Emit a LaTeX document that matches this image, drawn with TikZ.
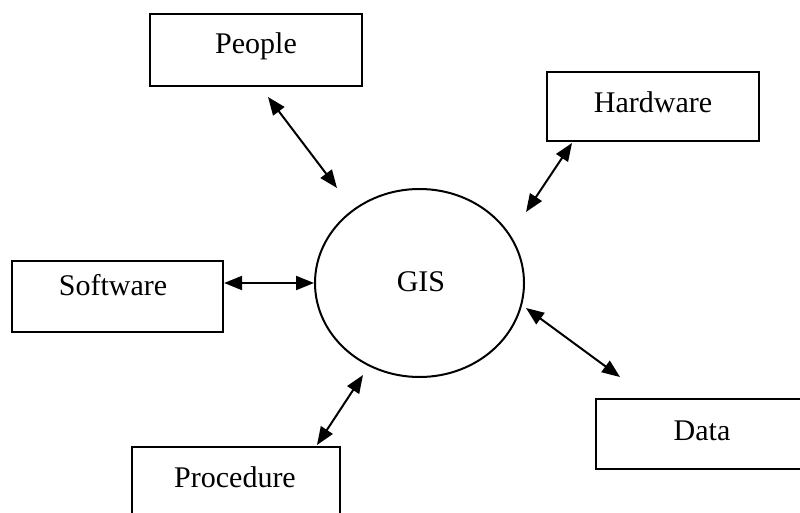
\documentclass[tikz,border=0pt]{standalone}
\usepackage{fontspec}
\setmainfont{Liberation Serif}
\usetikzlibrary{arrows.meta,shapes.geometric}
\begin{document}
\begin{tikzpicture}[x=1pt,y=-1pt,
  box/.style={draw=black,line width=2.2pt,rectangle,inner sep=0pt},
  lbl/.style={anchor=base,inner sep=0pt,font=\fontsize{30}{36}\selectfont},
  link/.style={line width=2pt,{Triangle[length=18pt,width=14pt]}-{Triangle[length=18pt,width=14pt]}}]
\useasboundingbox (0,0) rectangle (800,513);
\clip (0,0) rectangle (800,513);
% boxes
\node[box,minimum width=212pt,minimum height=72pt] (people) at (256,50) {};
\node[box,minimum width=212pt,minimum height=69pt] (hardware) at (653,106.5) {};
\node[box,minimum width=211pt,minimum height=71pt] (software) at (117.5,296.5) {};
\node[box,minimum width=208pt,minimum height=72pt] (procedure) at (236,483) {};
\node[box,minimum width=208pt,minimum height=70pt] (data) at (700,434) {};
\node[draw=black,line width=2pt,ellipse,minimum width=209pt,minimum height=188pt,inner sep=0pt] (gis) at (419.5,283) {};
% labels
\node[lbl] (peoplet) at (256,54) {People};
\node[lbl] (hardwaret) at (653,113) {Hardware};
\node[lbl] (softwaret) at (113,295) {Software};
\node[lbl] (proceduret) at (235,487) {Procedure};
\node[lbl] (datat) at (702,440) {Data};
\node[lbl] (gist) at (421,291) {GIS};
% connector end points
\coordinate (pa) at (268,97);
\coordinate (pb) at (337,188);
\coordinate (ha) at (572,143);
\coordinate (hb) at (526,212);
\coordinate (pra) at (317,445);
\coordinate (prb) at (363,375);
\coordinate (da) at (526,308);
\coordinate (db) at (620,377);
% connectors
\draw[link] (pa) -- (pb);
\draw[link] (ha) -- (hb);
\draw[link] (software.east |- 0,283) -- (gis.west |- 0,283);
\draw[link] (pra) -- (prb);
\draw[link] (da) -- (db);
\end{tikzpicture}
\end{document}
